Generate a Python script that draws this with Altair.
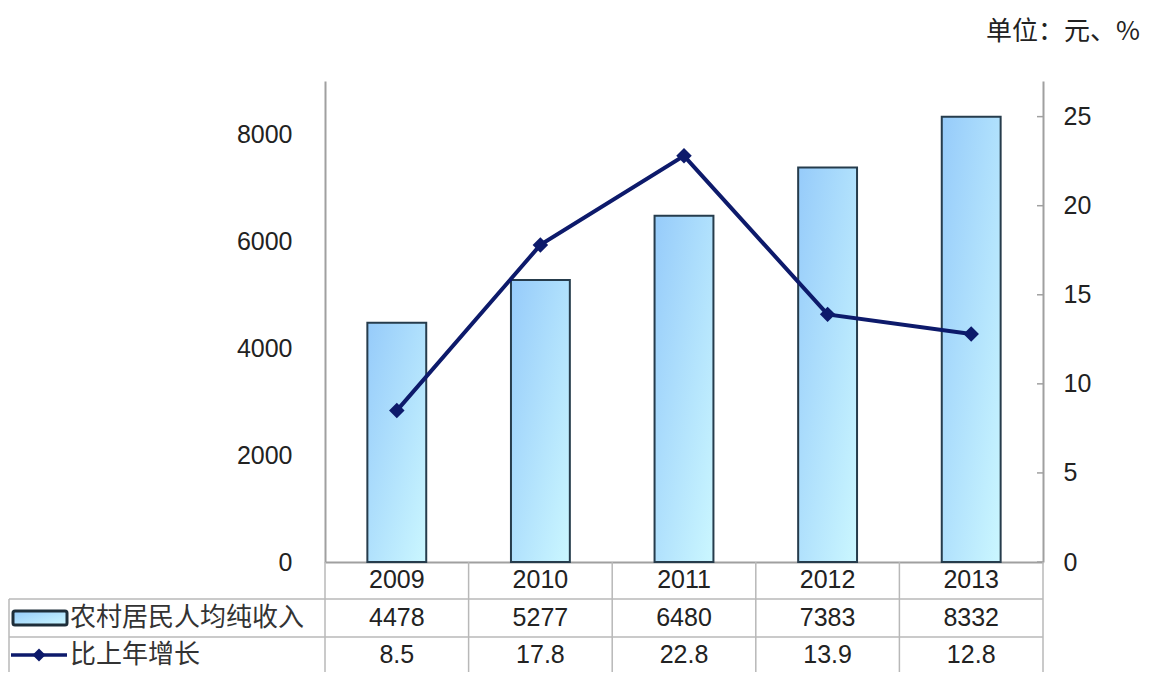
import altair as alt
import pandas as pd

years = ["2009", "2010", "2011", "2012", "2013"]
income = [4478, 5277, 6480, 7383, 8332]
growth = [8.5, 17.8, 22.8, 13.9, 12.8]
left_ticks = [0, 2000, 4000, 6000, 8000]
right_ticks = [0, 5, 10, 15, 20, 25]
series_names = ["农村居民人均纯收入", "比上年增长"]
unit_label = "单位：元、%"

W, H = 718, 481
NUM_FONT = "Liberation Sans"
CJK_FONT = "Noto Sans CJK SC"
GRID = "#b8b8b8"
AXIS = "#a0a0a0"
NAVY = "#0d1a6b"
TXT = "#222222"
FS = 25

df = pd.DataFrame({"year": years, "income": income, "growth": growth})
tick_df = pd.DataFrame({"growth": right_ticks})
one = pd.DataFrame({"k": [0]})

grad = alt.Gradient(
    gradient="linear",
    stops=[alt.GradientStop(color="#96cbfa", offset=0),
           alt.GradientStop(color="#cbf7ff", offset=1)],
    x1=0, y1=0, x2=1, y2=1,
)

xenc = alt.X("year:N", sort=years,
             scale=alt.Scale(paddingInner=0, paddingOuter=0),
             axis=alt.Axis(labels=False, ticks=False, domainColor=AXIS,
                           domainWidth=2, title=None, grid=False))

bars = alt.Chart(df).mark_bar(
    color=grad, stroke="#263c4c", strokeWidth=2,
    width=alt.RelativeBandSize(0.41)
).encode(
    x=xenc,
    y=alt.Y("income:Q", scale=alt.Scale(domain=[0, 9000], nice=False),
            axis=alt.Axis(values=left_ticks, ticks=False, labelPadding=33,
                          format="d", domainColor=AXIS, domainWidth=2,
                          grid=False, title=None)),
)

yr = alt.Y("growth:Q", scale=alt.Scale(domain=[0, 27], nice=False),
           axis=alt.Axis(orient="right", values=right_ticks, ticks=False,
                         labelPadding=20, format="d", domainColor=AXIS,
                         domainWidth=2, grid=False, title=None))

line = alt.Chart(df).mark_line(color=NAVY, strokeWidth=4).encode(x=xenc, y=yr)
pts = alt.Chart(df).mark_point(shape="diamond", filled=True, size=240,
                               color=NAVY, opacity=1).encode(x=xenc, y=yr)
rticks = alt.Chart(tick_df).mark_rule(color=AXIS, strokeWidth=1.5).encode(
    x=alt.value(W - 6), x2=alt.value(W), y=yr)

right_layer = alt.layer(line, pts, rticks)

# data table
row_y = [499, 537, 574]
t_year = alt.Chart(df).mark_text(font=NUM_FONT, fontSize=FS, color=TXT).encode(
    x=xenc, y=alt.value(row_y[0]), text="year:N")
t_inc = alt.Chart(df).mark_text(font=NUM_FONT, fontSize=FS, color=TXT).encode(
    x=xenc, y=alt.value(row_y[1]), text="income:Q")
t_gr = alt.Chart(df).mark_text(font=NUM_FONT, fontSize=FS, color=TXT).encode(
    x=xenc, y=alt.value(row_y[2]), text=alt.Text("growth:Q", format=".1f"))

vsep = alt.Chart(df).mark_rule(color=GRID, strokeWidth=1.5).encode(
    x=alt.X("year:N", sort=years, bandPosition=0),
    y=alt.value(H), y2=alt.value(H + 200))
vright = alt.Chart(one).mark_rule(color=GRID, strokeWidth=1.5).encode(
    x=alt.value(W), y=alt.value(H), y2=alt.value(H + 200))
vleft = alt.Chart(one).mark_rule(color=GRID, strokeWidth=1.5).encode(
    x=alt.value(-316), y=alt.value(518), y2=alt.value(H + 200))
h1 = alt.Chart(one).mark_rule(color=GRID, strokeWidth=1.5).encode(
    x=alt.value(-316), x2=alt.value(W), y=alt.value(518))
h2 = alt.Chart(one).mark_rule(color=GRID, strokeWidth=1.5).encode(
    x=alt.value(-316), x2=alt.value(W), y=alt.value(556))

# legend keys inside table
key_rect = alt.Chart(one).mark_rect(
    color=grad, stroke="#1e2e3a", strokeWidth=3, cornerRadius=2
).encode(x=alt.value(-312), x2=alt.value(-258), y=alt.value(530), y2=alt.value(544))
key_line = alt.Chart(one).mark_rule(color=NAVY, strokeWidth=3.5).encode(
    x=alt.value(-314), x2=alt.value(-258), y=alt.value(row_y[2]))
key_pt = alt.Chart(one).mark_point(shape="diamond", filled=True, size=170,
                                   color=NAVY, opacity=1).encode(
    x=alt.value(-286), y=alt.value(row_y[2]))
key_t1 = alt.Chart(one).mark_text(font=CJK_FONT, fontSize=26, color="#333333",
                                  align="left").encode(
    x=alt.value(-255), y=alt.value(row_y[1]), text=alt.value(series_names[0]))
key_t2 = alt.Chart(one).mark_text(font=CJK_FONT, fontSize=26, color="#333333",
                                  align="left").encode(
    x=alt.value(-255), y=alt.value(row_y[2]), text=alt.value(series_names[1]))

unit = alt.Chart(one).mark_text(font=CJK_FONT, fontSize=26, color=TXT,
                                align="right").encode(
    x=alt.value(W + 97), y=alt.value(-49), text=alt.value(unit_label))

main = alt.layer(bars, right_layer).resolve_scale(y="independent")

chart = alt.layer(
    main, vsep, vright, vleft, h1, h2, t_year, t_inc, t_gr,
    key_rect, key_line, key_pt, key_t1, key_t2, unit
).properties(
    width=W, height=H,
    autosize=alt.AutoSizeParams(type="none"),
    padding={"left": 317, "top": 73, "right": 98, "bottom": 110},
).configure_view(stroke=None).configure_axis(
    labelFont=NUM_FONT, labelFontSize=FS, labelColor=TXT
)

chart.save("out.html", embed_options={"renderer": "svg", "actions": False})
